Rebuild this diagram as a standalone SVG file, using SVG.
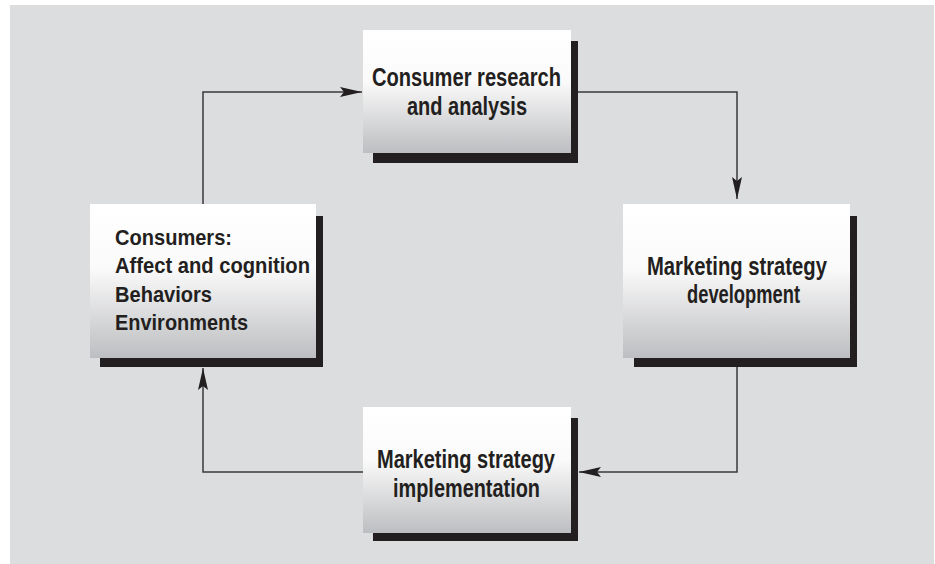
<svg xmlns="http://www.w3.org/2000/svg" width="935" height="564" viewBox="0 0 935 564">
  <defs>
    <linearGradient id="boxFill" x1="0" y1="0" x2="0" y2="1">
      <stop offset="0" stop-color="#ffffff"/>
      <stop offset="0.42" stop-color="#fafafa"/>
      <stop offset="1" stop-color="#bdbec1"/>
    </linearGradient>
    <marker id="arrow" viewBox="0 0 22 10" refX="22" refY="5" markerWidth="22" markerHeight="10" markerUnits="userSpaceOnUse" orient="auto">
      <path d="M0,0 L22,5 L0,10 L4,5 Z" fill="#231f20"/>
    </marker>
    <style>
      .shadow { fill: #231f20; }
      .box { fill: url(#boxFill); }
      .label { font-family: "Liberation Sans", Arial, sans-serif; font-weight: bold; fill: #231f20; }
      .big { font-size: 25px; }
      .small { font-size: 22px; }
      .link { fill: none; stroke: #3a3a3c; stroke-width: 1.5; }
    </style>
  </defs>

  <!-- page background -->
  <rect x="0" y="0" width="935" height="564" fill="#ffffff"/>
  <rect x="10" y="5" width="924" height="559" fill="#dcdddf"/>

  <!-- connectors -->
  <g id="connectors">
    <path class="link" d="M203,204 V92 H362" marker-end="url(#arrow)"/>
    <path class="link" d="M571,92 H737 V199" marker-end="url(#arrow)"/>
    <path class="link" d="M737,367 V472 H579" marker-end="url(#arrow)"/>
    <path class="link" d="M363,472 H203 V368" marker-end="url(#arrow)"/>
  </g>

  <!-- consumer research -->
  <g id="research">
    <rect class="shadow" x="373" y="41" width="205" height="122"/>
    <rect class="box" x="363" y="30" width="208" height="123"/>
    <text class="label big" x="372" y="86" textLength="189" lengthAdjust="spacingAndGlyphs">Consumer research</text>
    <text class="label big" x="407" y="115" textLength="120" lengthAdjust="spacingAndGlyphs">and analysis</text>
  </g>

  <!-- strategy development -->
  <g id="development">
    <rect class="shadow" x="634" y="216" width="223" height="151"/>
    <rect class="box" x="623" y="204" width="227" height="154"/>
    <text class="label big" x="647" y="275" textLength="180" lengthAdjust="spacingAndGlyphs">Marketing strategy</text>
    <text class="label big" x="687" y="303" textLength="113" lengthAdjust="spacingAndGlyphs">development</text>
  </g>

  <!-- strategy implementation -->
  <g id="implementation">
    <rect class="shadow" x="373" y="418" width="205" height="123"/>
    <rect class="box" x="363" y="407" width="208" height="126"/>
    <text class="label big" x="377" y="468" textLength="178" lengthAdjust="spacingAndGlyphs">Marketing strategy</text>
    <text class="label big" x="393" y="497" textLength="147" lengthAdjust="spacingAndGlyphs">implementation</text>
  </g>

  <!-- consumers -->
  <g id="consumers">
    <rect class="shadow" x="100" y="216" width="223" height="151"/>
    <rect class="box" x="90" y="204" width="226" height="154"/>
    <text class="label small" x="115" y="245" textLength="117" lengthAdjust="spacingAndGlyphs">Consumers:</text>
    <text class="label small" x="115" y="273" textLength="195" lengthAdjust="spacingAndGlyphs">Affect and cognition</text>
    <text class="label small" x="115" y="301.5" textLength="97" lengthAdjust="spacingAndGlyphs">Behaviors</text>
    <text class="label small" x="115" y="330" textLength="133" lengthAdjust="spacingAndGlyphs">Environments</text>
  </g>
</svg>
